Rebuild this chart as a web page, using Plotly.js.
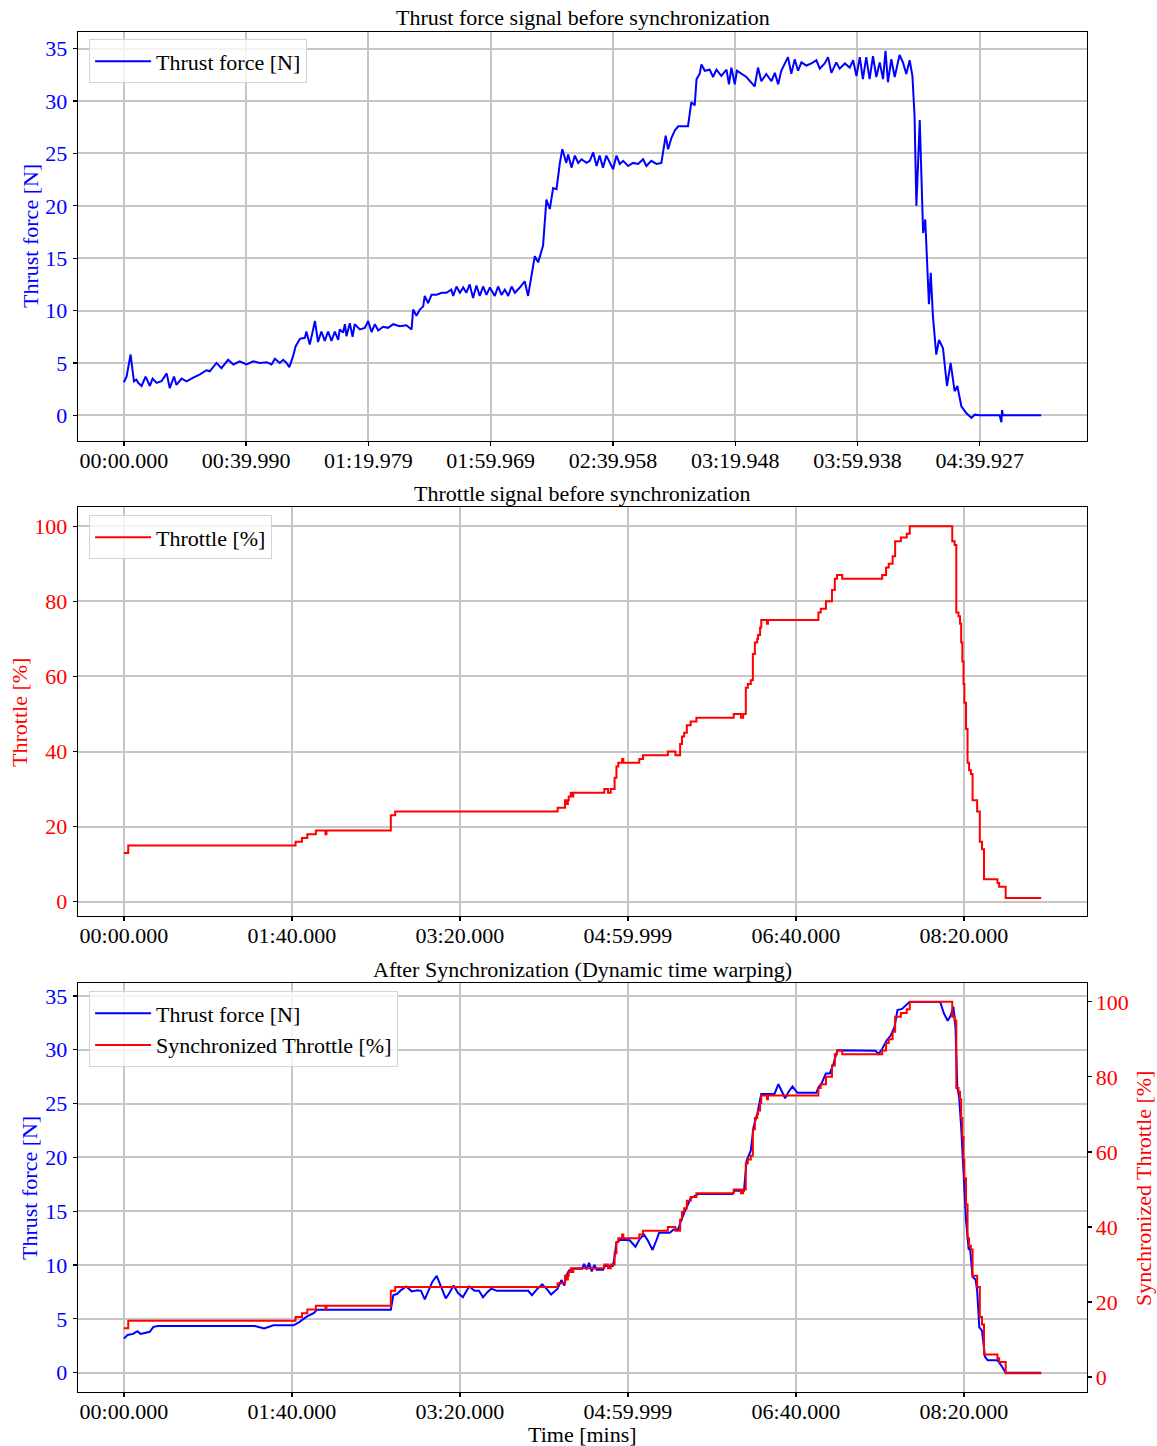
<!DOCTYPE html>
<html>
<head>
<meta charset="utf-8">
<script src="https://cdn.plot.ly/plotly-3.0.1.min.js"></script>
<style>
  html, body { margin: 0; padding: 0; background: #fff; }
  #chart { width: 1157px; height: 1446px; }
</style>
</head>
<body>
<div id="chart"></div>
<script>
// ---------- Panel 1: thrust force before synchronization (time in s) ----------
const thrustTime = [0,0.9,2.2,2.7,3.3,4.1,4.7,5.8,7.1,8.5,9.4,10.7,12.3,14.0,15.0,16.4,17.2,18.9,20.5,22.7,24.9,27.0,28.1,30.3,31.9,34.1,35.8,37.9,40.1,42.3,44.5,46.7,48.3,49.4,51.0,52.1,53.2,54.1,55.2,56.2,57.6,59.2,59.7,60.8,61.6,62.5,63.5,64.6,65.7,66.8,67.9,69.0,70.1,70.6,71.7,72.3,72.8,73.9,74.8,75.5,77.2,78.8,79.9,81.0,82.1,83.2,84.8,86.4,88.1,90.2,92.4,94.1,94.6,95.7,96.8,97.9,98.4,99.5,100.6,102.2,103.9,105.5,107.1,107.7,108.8,109.9,111.0,112.0,113.1,114.2,115.3,116.4,117.5,118.6,119.7,121.3,122.4,123.5,124.6,125.7,126.8,127.9,129.5,131.1,132.2,133.3,134.4,135.5,137.1,138.2,139.3,140.4,141.5,142.6,143.4,144.7,145.3,146.4,147.5,148.6,149.7,151.3,152.4,153.5,154.6,155.6,156.7,157.8,158.9,160.0,161.1,162.2,163.3,164.9,166.5,168.2,169.8,170.9,172.5,174.2,175.8,176.4,177.2,178.0,179.1,180.2,181.3,183.4,184.5,185.6,186.7,187.3,188.3,188.9,190.0,191.6,192.7,193.8,195.4,197.1,197.9,198.7,199.8,200.5,202.0,203.6,206.3,207.4,208.5,210.1,211.8,212.9,214.0,215.0,217.2,218.3,219.4,220.5,221.6,223.2,224.9,226.5,227.6,229.2,230.3,231.4,233.0,234.1,235.8,237.4,238.5,239.6,240.7,241.7,242.8,243.9,245.0,246.1,247.2,248.3,249.1,249.9,251.0,252.1,253.7,254.8,255.9,257.0,257.9,258.6,259.2,260.3,261.4,262.1,263.3,263.9,264.6,265.7,266.6,267.9,269.2,270.4,271.7,272.6,273.9,275.5,277.2,278.3,279.9,286.4,287.0,287.2,287.5,300.0];
const thrustForce = [3.16,3.7,5.8,4.7,3.25,3.4,3.1,2.8,3.7,2.8,3.5,3.1,3.25,4.0,2.6,3.7,2.9,3.5,3.25,3.6,3.9,4.3,4.2,5.0,4.5,5.3,4.85,5.15,4.85,5.15,5.0,5.07,4.85,5.4,5.0,5.3,5.0,4.6,5.5,6.6,7.3,7.4,8.0,6.75,7.9,9.0,7.0,8.0,7.1,8.0,7.1,8.0,7.2,8.2,7.9,8.7,7.55,8.8,7.5,8.7,8.2,8.35,9.0,7.95,8.7,8.1,8.45,8.35,8.7,8.5,8.6,8.2,10.1,9.5,10.1,10.4,11.4,10.7,11.5,11.5,11.7,11.7,12.0,11.4,12.3,11.7,12.2,11.7,12.5,11.2,12.4,11.4,12.3,11.5,12.2,11.4,12.3,11.5,12.0,11.4,12.3,11.7,12.2,12.8,11.4,13.45,15.2,14.6,16.2,20.6,19.7,21.7,21.6,24.1,25.4,24.1,24.9,23.65,24.8,24.1,24.45,24.1,24.3,25.1,23.8,24.8,23.65,24.8,24.1,23.5,24.8,24.0,24.3,23.8,24.1,24.0,24.45,23.8,24.3,24.0,24.1,25.4,26.7,25.4,26.5,27.2,27.6,27.6,27.6,29.9,29.6,32.1,32.6,33.5,32.9,33.0,32.3,33.0,32.4,33.0,31.6,33.2,31.6,32.9,32.6,32.3,31.4,33.2,31.9,32.6,31.9,32.7,31.6,32.9,34.2,32.6,34.0,32.9,33.7,33.4,33.6,33.9,33.1,33.6,34.2,32.7,33.7,33.1,33.6,33.2,33.9,32.4,34.2,32.1,34.2,32.1,34.3,32.3,33.7,32.1,34.8,31.8,34.0,32.3,34.4,33.7,32.6,33.9,32.4,28.6,20.0,28.2,17.4,18.7,10.6,13.6,9.5,5.8,7.2,6.4,2.8,5.0,2.3,2.8,0.86,0.22,-0.25,0.06,0.0,0.0,-0.67,0.5,0.0,0.0];
const panel1TickVals = [0, 39.99, 79.979, 119.969, 159.958, 199.948, 239.938, 279.927];
const panel1TickText = ["00:00.000","00:39.990","01:19.979","01:59.969","02:39.958","03:19.948","03:59.938","04:39.927"];

// ---------- Panel 2: throttle before synchronization (step signal) ----------
const throttleTime = [0,2.6,102.2,106,109.2,114.3,120.0,120.6,158.9,161.5,258.2,262.6,263.7,264.3,264.8,266.0,266.8,267.5,286.0,288.2,289.8,292.1,293.2,294.3,296.6,297.3,306.8,309.0,323.8,328.3,331.1,332.2,333.5,335.1,337.4,340.8,363.0,367.3,368.6,370.2,371.4,373.2,374.4,375.6,377.0,377.5,378.7,379.4,382.8,383.4,413.4,414.8,417.9,421.5,423.2,424.5,427.6,451.4,453.7,455.3,457.6,459.1,462.5,466.0,467.8,493.1,494.5,495.5,496.8,497.7,498.4,499.1,499.8,500.3,501.3,502.2,503.1,504.2,505.2,507.9,509.5,510.8,512.0,520.0,521.0,524.9,546.0];
const throttle = [13,15,16,17,18,19,18,19,23,24,25,27,26,27,28,29,28,29,30,29,30,33,36,37,38,37,38,39,40,39,42,44,45,47,48,49,50,49,50,57,58,59,66,69,70,71,73,75,74,75,77,78,80,83,86,87,86,87,89,90,92,96,97,98,100,96,95,77,76,74,69,64,58,53,46,37,35,34,27,24,16,14,6,5,4,1,1];
const timeTickVals = [0, 100, 200, 299.999, 400, 500];
const timeTickText = ["00:00.000","01:40.000","03:20.000","04:59.999","06:40.000","08:20.000"];

// ---------- Panel 3: after DTW synchronization ----------
const syncTime = [0,2.2,5.5,8.1,9.9,13.2,15.4,17.6,20.4,78.0,83.5,89.0,101.0,104.4,108.8,113.2,115.0,158.9,160.4,162.6,164.8,168.1,171.4,174.7,176.9,179.1,181.3,183.5,186.2,189.0,191.6,193.4,196.3,198.9,201.8,205.5,208.8,211.4,213.8,216.5,218.7,222.0,240.7,242.9,246.2,249.0,251.6,254.3,256.0,258.2,260.4,262.2,263.3,265.0,267.1,272.8,273.9,275.5,276.9,278.5,280.1,281.4,285.3,286.0,291.0,292.1,293.2,295.5,301.1,304.5,306.8,309.5,311.8,314.7,317.0,318.6,325.0,327.2,329.9,331.7,334.0,337.4,342.0,362.3,363.5,369.1,370.7,373.2,374.8,377.1,379.4,387.3,389.6,391.8,393.6,395.7,398.0,400.9,412.2,413.4,415.2,417.9,420.2,422.4,424.7,447.4,449.2,451.4,454.2,456.4,458.7,460.5,463.2,466.6,467.8,485.9,488.2,490.4,492.2,493.8,495.0,496.1,497.2,498.4,500.0,501.3,502.9,503.6,505.2,507.0,507.9,509.2,510.8,512.6,514.2,519.9,522.2,524.9,546.0];
const syncThrust = [3.16,3.5,3.6,3.85,3.6,3.7,3.8,4.25,4.33,4.33,4.1,4.4,4.4,4.7,5.2,5.55,5.85,5.85,7.2,7.3,7.65,8.0,7.55,7.65,7.6,6.8,7.65,8.4,9.0,8.0,6.9,7.3,8.1,7.4,7.0,8.0,7.6,7.6,7.0,7.5,7.8,7.6,7.6,7.2,7.8,8.2,7.8,7.25,7.5,7.8,8.6,8.1,9.0,9.5,9.66,9.66,10.1,9.6,10.2,9.4,10.0,9.57,9.57,9.9,9.9,10.75,12.1,12.35,12.3,11.7,12.35,12.85,12.3,11.4,12.3,13.0,13.0,13.3,13.3,14.15,15.0,16.2,16.6,16.6,16.9,16.9,19.7,20.65,22.8,24.1,25.9,25.9,26.8,26.1,25.5,26.1,26.6,26.0,26.0,26.5,26.85,27.8,27.8,28.7,29.95,29.9,29.6,30.1,30.9,31.3,32.1,33.7,33.8,34.3,34.45,34.45,33.35,32.7,33.2,34.0,32.1,26.5,25.6,22.8,18.2,14.15,11.4,11.7,8.9,8.64,7.65,4.2,3.9,1.46,1.15,1.15,0.68,0.0,0.0];
const syncThrottleTime = throttleTime;
const syncThrottle = throttle;

// ---------- layout helpers ----------
const FONT = "Liberation Serif, Times New Roman, serif";
const FS = 22;
const BLUE = "#0000ff", RED = "#ff0000";
function axisBase(extra) {
  return Object.assign({
    showline: true, mirror: true, linecolor: "#000", linewidth: 1.3,
    ticks: "outside", ticklen: 4, tickwidth: 1.3, tickcolor: "#000",
    showgrid: true, gridcolor: "#c6c6c6", gridwidth: 2,
    zeroline: false,
    tickfont: { family: FONT, size: FS, color: "#000" }
  }, extra);
}
function xAxis(extra) { return axisBase(Object.assign({ ticklabelstandoff: -5 }, extra)); }
function yAxis(color, extra) {
  return axisBase(Object.assign({ ticklabelstandoff: 1,
    tickfont: { family: FONT, size: FS, color: color } }, extra));
}

const traces = [
  { x: thrustTime, y: thrustForce, type: "scatter", mode: "lines",
    name: "Thrust force [N]", line: { color: BLUE, width: 2 },
    xaxis: "x", yaxis: "y", legend: "legend" },
  { x: throttleTime, y: throttle, type: "scatter", mode: "lines",
    name: "Throttle [%]", line: { color: RED, width: 2, shape: "hv" },
    xaxis: "x2", yaxis: "y2", legend: "legend2" },
  { x: syncTime, y: syncThrust, type: "scatter", mode: "lines",
    name: "Thrust force [N]", line: { color: BLUE, width: 2 },
    xaxis: "x3", yaxis: "y3", legend: "legend3" },
  { x: syncThrottleTime, y: syncThrottle, type: "scatter", mode: "lines",
    name: "Synchronized Throttle [%]", line: { color: RED, width: 2, shape: "hv" },
    xaxis: "x3", yaxis: "y4", legend: "legend3" }
];

const legendBase = {
  xref: "paper", yref: "paper", x: 0.011, xanchor: "left", yanchor: "top",
  bgcolor: "rgba(255,255,255,0.8)", bordercolor: "#d4d4d4", borderwidth: 1,
  itemwidth: 56, tracegroupgap: 0,
  font: { family: FONT, size: FS, color: "#000" }
};

function ann(text, x, y, color, angle) {
  const a = { text: text, xref: "paper", yref: "paper", x: x, y: y,
    xanchor: "center", yanchor: "middle", showarrow: false,
    font: { family: FONT, size: FS, color: color } };
  if (angle) a.textangle = angle;
  return a;
}

const layout = {
  width: 1157, height: 1446,
  margin: { l: 78, r: 70, t: 32, b: 54 },
  paper_bgcolor: "#fff", plot_bgcolor: "#fff",
  font: { family: FONT, size: FS, color: "#000" },
  xaxis: xAxis({ domain: [0, 1], anchor: "y", range: [-15, 315],
    tickmode: "array", tickvals: panel1TickVals, ticktext: panel1TickText }),
  yaxis: yAxis(BLUE, { domain: [0.6993, 1], anchor: "x", range: [-2.45, 36.6], dtick: 5, tick0: 0 }),
  xaxis2: xAxis({ domain: [0, 1], anchor: "y2", range: [-27.3, 573.3],
    tickmode: "array", tickvals: timeTickVals, ticktext: timeTickText }),
  yaxis2: yAxis(RED, { domain: [0.35, 0.6507], anchor: "x2", range: [-3.8, 105.1], dtick: 20, tick0: 0 }),
  xaxis3: xAxis({ domain: [0, 1], anchor: "y3", range: [-27.3, 573.3],
    tickmode: "array", tickvals: timeTickVals, ticktext: timeTickText }),
  yaxis3: yAxis(BLUE, { domain: [0, 0.3007], anchor: "x3", range: [-1.8, 36.2], dtick: 5, tick0: 0 }),
  yaxis4: axisBase({ overlaying: "y3", side: "right", anchor: "x3", range: [-4.0, 105.0],
    dtick: 20, tick0: 0, showgrid: false, mirror: false, ticklabelstandoff: -1,
    tickfont: { family: FONT, size: FS, color: RED } }),
  legend: Object.assign({}, legendBase, { y: 0.9945 }),
  legend2: Object.assign({}, legendBase, { y: 0.6445 }),
  legend3: Object.assign({}, legendBase, { y: 0.2945 }),
  showlegend: true,
  annotations: [
    ann("Thrust force signal before synchronization", 0.5, 1.0103, "#000"),
    ann("Throttle signal before synchronization", 0.5, 0.661, "#000"),
    ann("After Synchronization (Dynamic time warping)", 0.5, 0.311, "#000"),
    ann("Thrust force [N]", -0.0476, 0.85, BLUE, -90),
    ann("Throttle [%]", -0.0585, 0.5, RED, -90),
    ann("Thrust force [N]", -0.0486, 0.15, BLUE, -90),
    ann("Synchronized Throttle [%]", 1.0555, 0.15, RED, -90),
    ann("Time [mins]", 0.5, -0.0316, "#000")
  ]
};

Plotly.newPlot("chart", traces, layout, { displayModeBar: false, staticPlot: true });
</script>
</body>
</html>
